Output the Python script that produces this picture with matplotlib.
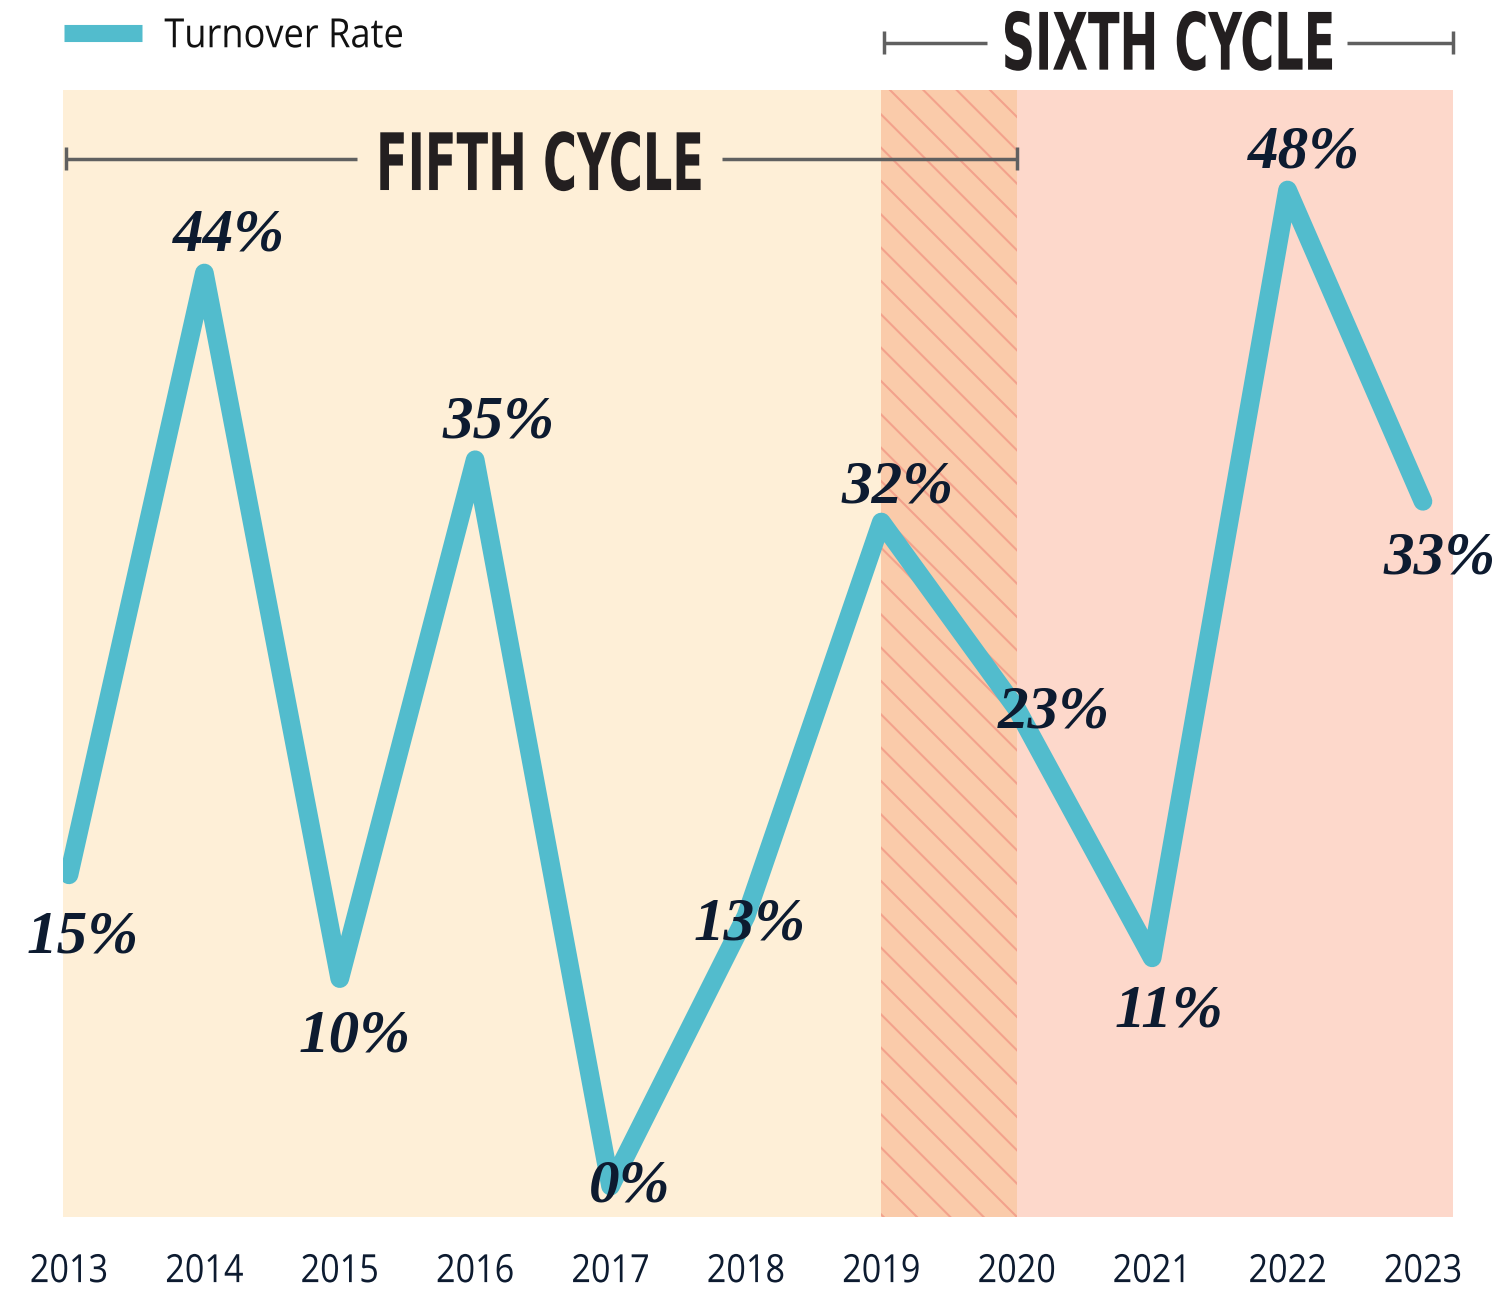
import matplotlib
matplotlib.use("Agg")
import numpy as np
import matplotlib.pyplot as plt
from matplotlib.lines import Line2D
from matplotlib.path import Path
from matplotlib.transforms import Affine2D
from matplotlib.patheffects import AbstractPathEffect

years = [2013, 2014, 2015, 2016, 2017, 2018, 2019, 2020, 2021, 2022, 2023]
turnover = [15, 44, 10, 35, 0, 13, 32, 23, 11, 48, 33]
labels = ["15%", "44%", "10%", "35%", "0%", "13%", "32%", "23%", "11%", "48%", "33%"]
series_name = "Turnover Rate"
fifth_cycle = (2013, 2020)
sixth_cycle = (2019, 2023)

# label offsets in points (dx, dy)
offsets = [(10, -45), (18, 27), (11, -42), (17, 27), (14, 0), (3, -6),
           (12, 25), (27, -3), (12, -39), (12, 27), (12, -41)]

LINE = "#52BCCD"
TEXT = "#0D1B30"
FIFTH = "#FEEFD7"
SIXTH = "#FDD8CB"
OVER = "#FACBAA"
HATCH = "#F3A28C"
BRACKET = "#606060"


class Squeeze(AbstractPathEffect):
    """Narrow a text horizontally (for condensed-looking type)."""
    def __init__(self, sx, anchor='center'):
        super().__init__()
        self.sx = sx
        self.anchor = anchor

    def draw_path(self, renderer, gc, tpath, affine, rgbFace=None):
        v = affine.transform(tpath.vertices)
        if tpath.codes is not None:
            v = v[np.asarray(tpath.codes) != Path.CLOSEPOLY]
        if len(v) == 0:
            renderer.draw_path(gc, tpath, affine, rgbFace)
            return
        x0, x1 = v[:, 0].min(), v[:, 0].max()
        cx = {'left': x0, 'center': (x0 + x1) / 2, 'right': x1}[self.anchor]
        t = affine + Affine2D().translate(-cx, 0).scale(self.sx, 1).translate(cx, 0)
        renderer.draw_path(gc, tpath, t, rgbFace)


plt.rcParams['hatch.linewidth'] = 1.5

fig = plt.figure(figsize=(15, 13.11), dpi=100)
ax = fig.add_axes([63/1500, 1-1217/1311, (1453-63)/1500, (1217-90)/1311])
xmin, xmax = 2012.956, 2023.222
ax.set_xlim(xmin, xmax)
ax.set_ylim(-1.49, 52.82)

ax.axvspan(xmin, fifth_cycle[1], color=FIFTH, lw=0, zorder=0)
ax.axvspan(sixth_cycle[0], xmax, color=SIXTH, lw=0, zorder=0)
ax.axvspan(sixth_cycle[0], fifth_cycle[1], facecolor=OVER, edgecolor=HATCH,
           hatch='\\', lw=0, zorder=0.5)

ax.plot(years, turnover, color=LINE, lw=13.5, solid_capstyle='round',
        solid_joinstyle='round', zorder=2)

for x, y, lab, (dx, dy) in zip(years, turnover, labels, offsets):
    ax.annotate(lab, (x, y), xytext=(dx, dy), textcoords='offset points',
                ha='center', va='center', fontsize=44, color=TEXT,
                family='Liberation Serif', weight='bold', style='italic', zorder=3)

ax.set_xticks(years)
ax.set_xticklabels([str(y) for y in years], fontsize=28, color=TEXT, family='Open Sans')
for t in ax.get_xticklabels():
    t.set_path_effects([Squeeze(0.88, 'center')])
ax.tick_params(axis='x', length=0, pad=26)
ax.set_yticks([])
for s in ax.spines.values():
    s.set_visible(False)


def bracket(x0, x1, y, gap0, gap1, text, tx, ybase):
    kw = dict(color=BRACKET, lw=2.5, clip_on=False, zorder=4, solid_capstyle='butt')
    ax.plot([x0, gap0], [y, y], **kw)
    ax.plot([gap1, x1], [y, y], **kw)
    ax.plot([x0, x0], [y - 0.55, y + 0.55], **kw)
    ax.plot([x1, x1], [y - 0.55, y + 0.55], **kw)
    t = ax.text(tx, ybase, text, ha='center', va='baseline', fontsize=57,
                color='#231F20', family='DejaVu Sans', weight='bold',
                clip_on=False, zorder=4)
    t.set_path_effects([Squeeze(0.585, 'center')])


bracket(2012.98, 2020.0, 49.5, 2015.13, 2017.82, "FIFTH CYCLE", 2016.475, 48.0)
bracket(2019.02, 2023.222, 55.1, 2019.78, 2022.44, "SIXTH CYCLE", 2021.12, 53.8)

handle = Line2D([0], [0], color=LINE, lw=12.3, solid_capstyle='butt')
leg = fig.legend([handle], [series_name], loc='center left',
                 bbox_to_anchor=(64/1500, 1-37/1311), frameon=False,
                 prop={'family': 'Open Sans', 'size': 29}, handlelength=1.94,
                 handletextpad=0.55, borderpad=0, borderaxespad=0)
for t in leg.get_texts():
    t.set_color('#111111')
    t.set_path_effects([Squeeze(0.9, 'left')])

fig.savefig("out.png", dpi=100)
